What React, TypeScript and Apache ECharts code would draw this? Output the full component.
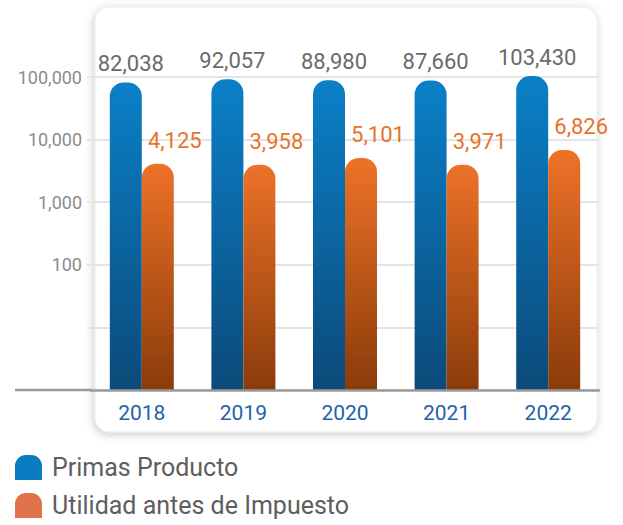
import React, { useEffect, useRef } from "react";
import * as echarts from "echarts";

const years = ["2018", "2019", "2020", "2021", "2022"];
const primasProducto = [82038, 92057, 88980, 87660, 103430];
const utilidadAntesImpuesto = [4125, 3958, 5101, 3971, 6826];
const seriesNames = ["Primas Producto", "Utilidad antes de Impuesto"];

const FONT = "Roboto";

const fmt = (v: number) => Math.round(v).toLocaleString("en-US");

export default function App() {
  const ref = useRef<HTMLDivElement>(null);
  useEffect(() => {
    if (!ref.current) return;
    const chart = echarts.init(ref.current, null, { renderer: "svg" });
    const iconPath =
      "path://M0,11 A11,11 0 0 1 11,0 L16,0 A11,11 0 0 1 27,11 L27,25 L0,25 Z";
    chart.setOption({
      animation: false,
      backgroundColor: "#ffffff",
      textStyle: { fontFamily: FONT },
      graphic: [
        {
          type: "rect",
          z: -10,
          shape: { x: 95, y: 7, width: 502, height: 425, r: 14 },
          style: {
            fill: "#ffffff",
            stroke: "#ececec",
            lineWidth: 1,
            shadowBlur: 8,
            shadowColor: "rgba(0,0,0,0.22)",
            shadowOffsetX: -1,
            shadowOffsetY: 2,
          },
        },
        {
          type: "line",
          z: 10,
          shape: { x1: 15, y1: 390, x2: 92, y2: 390 },
          style: { stroke: "#9a9a9a", lineWidth: 2.5 },
        },
      ],
      legend: {
        orient: "vertical",
        left: 15,
        top: 455,
        padding: 0,
        itemWidth: 27,
        itemHeight: 25,
        itemGap: 13,
        icon: iconPath,
        textStyle: {
          fontFamily: FONT,
          fontSize: 25,
          color: "#5e5e5e",
          padding: [0, 0, 0, 5],
        },
        data: [
          { name: seriesNames[0], itemStyle: { color: "#0b7cc4" } },
          { name: seriesNames[1], itemStyle: { color: "#e0714a" } },
        ],
      },
      grid: { left: 91, right: 24, top: 77, bottom: 135, containLabel: false },
      xAxis: {
        type: "category",
        data: years,
        axisTick: { show: false },
        axisLine: { lineStyle: { color: "#9a9a9a", width: 2.5 } },
        axisLabel: {
          color: "#1f62a8",
          fontFamily: FONT,
          fontSize: 21,
          margin: 12,
        },
        z: 10,
      },
      yAxis: {
        type: "log",
        logBase: 10,
        min: 1,
        max: 100000,
        axisLine: { show: false },
        axisTick: {
          show: true,
          length: 4,
          lineStyle: { color: "#e4e4e4", width: 2 },
        },
        splitLine: { lineStyle: { color: "#e4e4e4", width: 2 } },
        axisLabel: {
          color: "#8c8c8c",
          fontFamily: FONT,
          fontSize: 18,
          margin: 9,
          formatter: (v: number) => (v >= 99 ? fmt(v) : ""),
        },
      },
      series: [
        {
          name: seriesNames[0],
          type: "bar",
          data: primasProducto,
          barWidth: 32,
          barGap: "0%",
          clip: false,
          itemStyle: {
            borderRadius: [14, 14, 0, 0],
            color: new echarts.graphic.LinearGradient(0, 0, 0, 1, [
              { offset: 0, color: "#0a80c8" },
              { offset: 1, color: "#0c4a7a" },
            ]),
          },
          label: {
            show: true,
            position: "top",
            distance: 8,
            offset: [5, 0],
            color: "#6a6a6a",
            fontFamily: FONT,
            fontSize: 22,
            formatter: (p: any) => fmt(p.value),
          },
        },
        {
          name: seriesNames[1],
          type: "bar",
          data: utilidadAntesImpuesto,
          barWidth: 32,
          clip: false,
          itemStyle: {
            borderRadius: [14, 14, 0, 0],
            color: new echarts.graphic.LinearGradient(0, 0, 0, 1, [
              { offset: 0, color: "#ee7228" },
              { offset: 1, color: "#8a3b0a" },
            ]),
          },
          label: {
            show: true,
            position: "top",
            distance: 12,
            offset: [17, 0],
            color: "#e8732a",
            fontFamily: FONT,
            fontSize: 22,
            formatter: (p: any) => fmt(p.value),
          },
        },
      ],
    });
    return () => chart.dispose();
  }, []);
  return (
    <div
      ref={ref}
      style={{ position: "fixed", left: 0, top: 0, width: 623, height: 525 }}
    />
  );
}
